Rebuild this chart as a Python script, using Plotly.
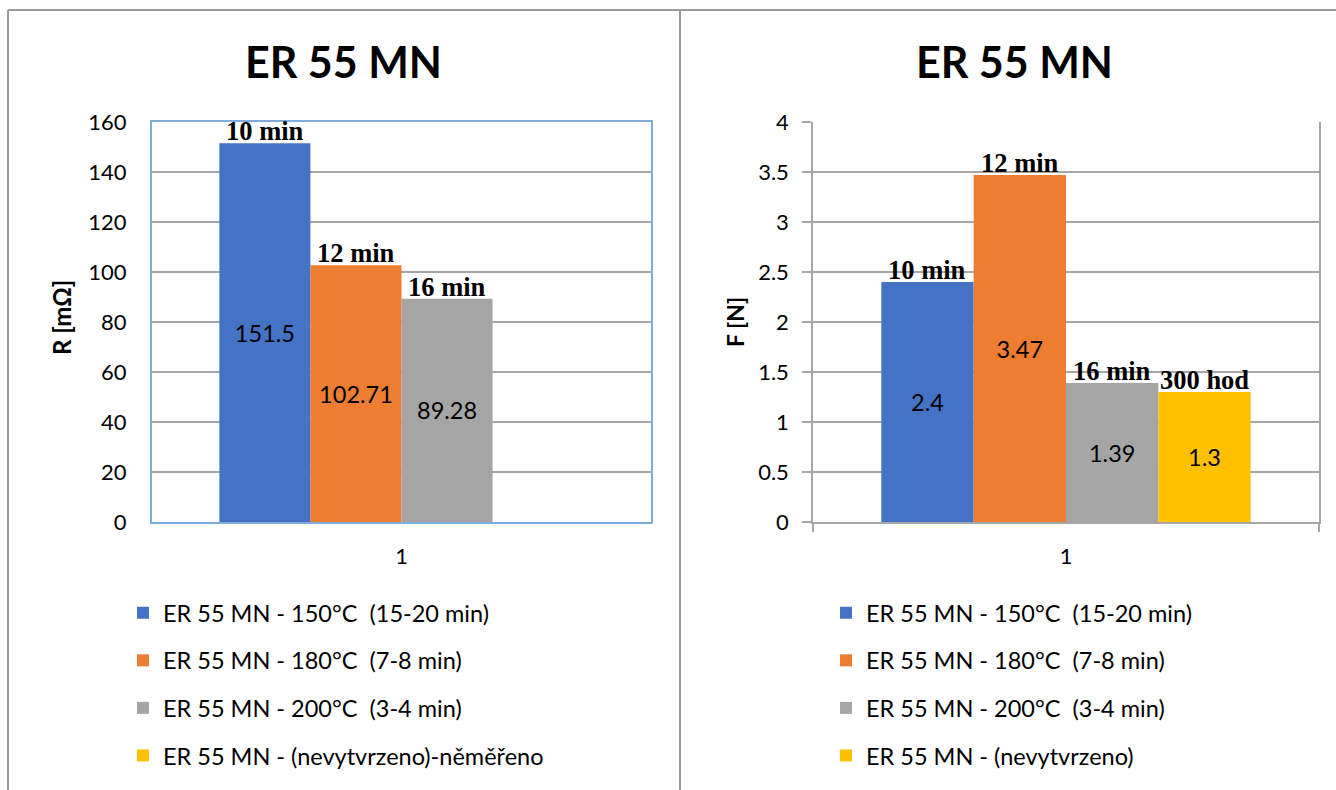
import plotly.graph_objects as go

# ---- data -------------------------------------------------------------
categories = ["1"]

names_r = [
    "ER 55 MN - 150°C  (15-20 min)",
    "ER 55 MN - 180°C  (7-8 min)",
    "ER 55 MN - 200°C  (3-4 min)",
    "ER 55 MN - (nevytvrzeno)-něměřeno",
]
names_f = [
    "ER 55 MN - 150°C  (15-20 min)",
    "ER 55 MN - 180°C  (7-8 min)",
    "ER 55 MN - 200°C  (3-4 min)",
    "ER 55 MN - (nevytvrzeno)",
]
r_values = [151.5, 102.71, 89.28, None]
f_values = [2.4, 3.47, 1.39, 1.3]
r_time_labels = ["10 min", "12 min", "16 min", ""]
f_time_labels = ["10 min", "12 min", "16 min", "300 hod"]
colors = ["#4472C4", "#ED7D31", "#A5A5A5", "#FFC000"]

# ---- style --------------------------------------------------------------
W, H = 1336, 790
FONT = "Lato"
SERIF = "Liberation Serif"
GRID = "#A6A6A6"
BOX_BLUE = "#7FACDC"
FRAME = "#9A9A9A"
BARGAP = 0.27
n_series = len(colors)


def px_x(p):
    return p / W


def px_y(p):
    return 1 - p / H


def fmt(v):
    return "" if v is None else f"{v:g}"


fig = go.Figure()

panels = [
    ("x", "y", "legend", names_r, r_values, r_time_labels),
    ("x2", "y2", "legend2", names_f, f_values, f_time_labels),
]

annotations = []
for xa, ya, leg, names, vals, tlabels in panels:
    for i, (name, v, c) in enumerate(zip(names, vals, colors)):
        fig.add_trace(go.Bar(
            x=categories, y=[v], name=name, xaxis=xa, yaxis=ya,
            marker=dict(color=c, line=dict(width=0)),
            text=[fmt(v)], textposition="inside", insidetextanchor="middle",
            textangle=0,
            insidetextfont=dict(family=FONT, size=23.5, color="black"),
            legend=leg, legendgroup=f"{leg}_{i}", showlegend=True,
            hoverinfo="skip",
        ))
        # time label sitting on top of each bar
        if v is not None and tlabels[i]:
            w = (1 - BARGAP) / n_series
            xpos = (i - (n_series - 1) / 2) * w
            annotations.append(dict(
                x=xpos, y=v, xref=xa, yref=ya, text=f"<b>{tlabels[i]}</b>",
                showarrow=False, yanchor="bottom", xanchor="center", yshift=-5,
                font=dict(family=SERIF, size=26.5, color="black"),
            ))

# panel titles
for cx in (344, 1014):
    annotations.append(dict(
        x=px_x(cx), y=px_y(62), xref="paper", yref="paper",
        text="<b>ER 55 MN</b>", showarrow=False, xanchor="center", yanchor="middle",
        font=dict(family=FONT, size=43, color="black"),
    ))

# axis titles
annotations.append(dict(
    x=px_x(62), y=px_y(318), xref="paper", yref="paper", text="<b>R [mΩ]</b>",
    textangle=-90, showarrow=False, xanchor="center", yanchor="middle",
    font=dict(family=FONT, size=24, color="black"),
))
annotations.append(dict(
    x=px_x(735), y=px_y(322), xref="paper", yref="paper", text="<b>F [N]</b>",
    textangle=-90, showarrow=False, xanchor="center", yanchor="middle",
    font=dict(family=FONT, size=23, color="black"),
))

tickfont = dict(family=FONT, size=22, color="black")
y_top, y_bot = 122, 522

fig.update_layout(
    width=W, height=H, autosize=False,
    margin=dict(l=0, r=0, t=0, b=0, autoexpand=False),
    paper_bgcolor="white", plot_bgcolor="white",
    barmode="group", bargap=BARGAP, bargroupgap=0,
    showlegend=True,
    annotations=annotations,
    xaxis=dict(
        domain=[px_x(152), px_x(651)], type="category", anchor="y",
        showline=True, linecolor=BOX_BLUE, linewidth=2, mirror=True,
        ticks="", tickfont=tickfont, ticklabelstandoff=14,
        showgrid=False, zeroline=False, fixedrange=True, automargin=False,
    ),
    yaxis=dict(
        domain=[px_y(y_bot), px_y(y_top)], anchor="x",
        range=[0, 160], dtick=20, tick0=0,
        showline=True, linecolor=BOX_BLUE, linewidth=2, mirror=True,
        showgrid=True, gridcolor=GRID, gridwidth=1.5, zeroline=False,
        ticks="", tickfont=tickfont, ticklabelstandoff=19,
        fixedrange=True, automargin=False,
    ),
    xaxis2=dict(
        domain=[px_x(813), px_x(1319)], type="category", anchor="y2",
        showline=True, linecolor=GRID, linewidth=1.5, mirror=False,
        ticks="outside", tickson="boundaries", ticklen=8, tickcolor=GRID,
        tickwidth=1.5,
        tickfont=tickfont, ticklabelstandoff=14,
        showgrid=False, zeroline=False, fixedrange=True, automargin=False,
    ),
    yaxis2=dict(
        domain=[px_y(y_bot), px_y(y_top)], anchor="x2",
        range=[0, 4], dtick=0.5, tick0=0,
        showline=True, linecolor=GRID, linewidth=1.5, mirror=True,
        showgrid=True, gridcolor=GRID, gridwidth=1.5, zeroline=False,
        ticks="outside", ticklen=9, tickcolor=GRID, tickwidth=1.5,
        tickfont=tickfont, ticklabelstandoff=9,
        fixedrange=True, automargin=False,
    ),
    legend=dict(
        x=px_x(123), y=px_y(591), xanchor="left", yanchor="top",
        font=dict(family=FONT, size=23.5, color="black"),
        traceorder="grouped", tracegroupgap=14, bgcolor="rgba(0,0,0,0)",
        borderwidth=0,
    ),
    legend2=dict(
        x=px_x(826), y=px_y(591), xanchor="left", yanchor="top",
        font=dict(family=FONT, size=23.5, color="black"),
        traceorder="grouped", tracegroupgap=14, bgcolor="rgba(0,0,0,0)",
        borderwidth=0,
    ),
    shapes=[
        # outer frame and panel divider
        dict(type="line", xref="paper", yref="paper",
             x0=px_x(8), x1=1, y0=px_y(10), y1=px_y(10),
             line=dict(color=FRAME, width=2)),
        dict(type="line", xref="paper", yref="paper",
             x0=px_x(8), x1=px_x(8), y0=px_y(10), y1=0,
             line=dict(color=FRAME, width=2)),
        dict(type="line", xref="paper", yref="paper",
             x0=px_x(680), x1=px_x(680), y0=px_y(10), y1=0,
             line=dict(color=FRAME, width=2)),
    ],
)

fig.write_html("out.html")
